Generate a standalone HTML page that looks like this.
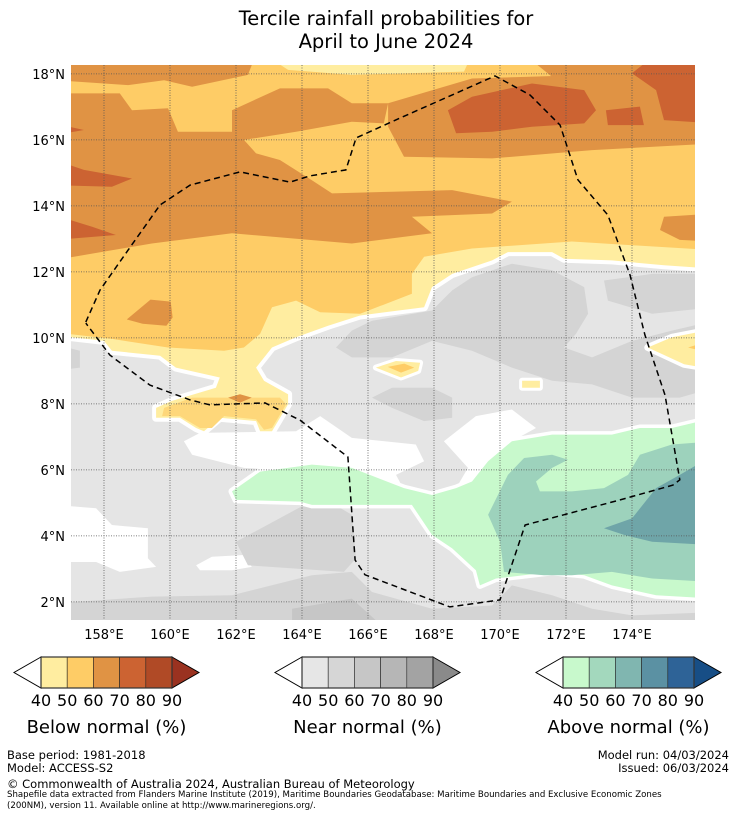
<!DOCTYPE html>
<html><head><meta charset="utf-8">
<style>
body{margin:0;background:#fff;font-family:"DejaVu Sans","Liberation Sans",sans-serif;}
#wrap{position:relative;width:736px;height:816px;overflow:hidden;}
.t{position:absolute;white-space:nowrap;color:#000;}
</style></head>
<body>
<div id="wrap">
<div class="t" style="left:0;width:772px;top:7px;text-align:center;font-size:19.5px;line-height:23px;">Tercile rainfall probabilities for<br>April to June 2024</div>
<svg id="map" width="736" height="816" style="position:absolute;left:0;top:0">
<defs><clipPath id="clip"><rect x="71" y="65" width="624" height="555"/></clipPath></defs>
<g id="layers" clip-path="url(#clip)"></g>
<g id="grid"></g>
<g id="eez" clip-path="url(#clip)"></g>
<g id="axes"></g>
<g id="legend"></g>
</svg>
<div class="t" style="left:7px;top:748px;font-size:11.5px;">Base period: 1981-2018</div>
<div class="t" style="left:7px;top:761px;font-size:11.5px;">Model: ACCESS-S2</div>
<div class="t" style="right:7px;top:748px;font-size:11.5px;text-align:right;">Model run: 04/03/2024</div>
<div class="t" style="right:7px;top:761px;font-size:11.5px;text-align:right;">Issued: 06/03/2024</div>
<div class="t" style="left:7px;top:777px;font-size:11.5px;">© Commonwealth of Australia 2024, Australian Bureau of Meteorology</div>
<div class="t" style="left:7px;top:790px;font-size:8.6px;line-height:10.5px;">Shapefile data extracted from Flanders Marine Institute (2019), Maritime Boundaries Geodatabase: Maritime Boundaries and Exclusive Economic Zones<br>(200NM), version 11. Available online at http://www.marineregions.org/.</div>
</div>
<script>
// ---- data (lon, lat) ----
const lonTicks = [158,160,162,164,166,168,170,172,174];
const latTicks = [2,4,6,8,10,12,14,16,18];
const legendLabels = ["40","50","60","70","80","90"];
const belowColors = ["#ffeda0","#fecc66","#e09344","#cc6332","#b04a26"];
const nearColors = ["#e6e6e6","#d6d6d6","#c6c6c6","#b6b6b6","#a3a3a3"];
const aboveColors = ["#c8f9cc","#a3d8bd","#80b6b0","#5b91a3","#2e6397"];
const legendTitles = ["Below normal (%)","Near normal (%)","Above normal (%)"];

const topOuter = [[157.03,10.02],[158.0,9.91],[158.24,9.61],[159.70,9.46],[160.18,9.10],[161.51,8.80],[161.39,8.49],[160.06,8.09],[159.58,7.88],[159.58,7.58],[160.30,7.58],[160.79,7.27],[161.03,7.17],[161.51,7.58],[162.61,7.48],[162.73,7.17],[163.09,7.17],[163.58,7.99],[163.58,8.29],[162.85,8.70],[162.61,9.10],[163.09,9.71],[163.82,10.02],[164.79,10.37],[165.76,10.68],[167.70,10.93],[167.94,11.54],[168.55,11.94],[169.76,12.35],[170.24,12.60],[171.58,12.60],[171.94,12.40],[173.39,12.35],[174.97,12.20],[176.5,12.10],[176.5,18.6],[156.5,18.6],[156.5,10.02]];
const topInner = [[156.5,10.17],[158.24,9.97],[159.94,9.71],[161.64,9.61],[162.24,9.71],[162.73,10.12],[163.09,10.93],[163.82,11.13],[164.55,10.78],[165.76,10.73],[167.33,11.34],[167.33,11.94],[167.70,12.46],[169.15,12.71],[172.18,12.92],[174.0,12.81],[176.5,12.66],[176.5,18.6],[156.5,18.6]];
const tongue = [[159.82,7.88],[160.67,8.19],[161.88,8.19],[163.33,8.19],[163.52,7.99],[163.09,7.27],[162.85,7.22],[162.61,7.53],[161.64,7.63],[161.27,7.27],[160.91,7.27],[160.30,7.63],[159.76,7.63]];
const tongueOrange = [[161.76,8.19],[162.12,8.29],[162.48,8.19],[162.12,8.04]];
const rightLY = [[174.48,9.71],[175.21,10.02],[176.5,10.27],[176.5,9.05],[175.58,9.20]];
const rightY = [[175.7,9.71],[176.5,9.96],[176.5,9.51]];
const blobLY1 = [[166.24,9.10],[166.85,9.30],[167.58,9.25],[167.52,9.00],[167.0,8.80]];
const blobY1 = [[166.6,9.12],[167.1,9.22],[167.4,9.1],[167.0,8.95]];
const blobLY2 = [[170.67,8.70],[171.21,8.70],[171.21,8.49],[170.67,8.49]];
const orangeAreas = [
 [[156.5,17.41],[158.48,17.41],[158.85,16.90],[159.94,16.96],[160.24,16.25],[161.88,16.25],[161.88,16.90],[163.33,17.56],[164.79,17.56],[165.51,17.11],[166.61,17.11],[166.48,16.50],[165.51,16.55],[163.82,16.25],[162.24,16.00],[162.61,15.59],[163.33,15.39],[164.30,14.78],[164.91,14.38],[166.73,14.43],[168.55,14.48],[170.36,14.13],[169.76,13.77],[167.33,13.67],[167.94,13.17],[165.51,12.86],[161.88,13.17],[159.45,12.86],[156.5,12.36]],
 [[166.61,17.11],[169.15,17.86],[172.79,17.97],[176.5,18.12],[176.5,15.89],[172.79,15.69],[169.76,15.44],[167.09,15.49],[166.61,16.40]],
 [[156.5,18.6],[162.61,18.6],[162.36,17.97],[160.67,17.61],[159.82,17.81],[158.73,17.66],[156.5,17.81]],
 [[170.73,18.6],[176.5,18.6],[176.5,18.02],[171.58,17.91]],
 [[176.5,13.77],[174.97,13.67],[174.85,13.27],[175.45,12.97],[176.5,12.92]],
 [[158.69,10.56],[159.41,11.16],[160.02,11.10],[160.08,10.62],[159.89,10.37],[159.17,10.43]]
];
const darkOrangeAreas = [
 [[168.42,16.90],[169.15,17.31],[170.97,17.71],[172.55,17.51],[172.91,16.90],[172.55,16.50],[170.97,16.40],[169.76,16.25],[168.67,16.20]],
 [[173.21,16.90],[174.24,17.01],[174.36,16.45],[173.27,16.45]],
 [[174.0,18.02],[174.73,18.6],[176.5,18.6],[176.5,16.50],[174.97,16.60],[174.73,17.51]],
 [[156.5,16.50],[157.39,16.30],[156.5,16.15]],
 [[156.5,15.39],[157.39,15.09],[158.85,14.83],[158.24,14.58],[156.5,14.63]],
 [[156.5,13.72],[157.64,13.37],[158.36,13.12],[156.5,12.97]]
];
const topLightYellow = [[162.85,18.6],[169.15,18.6],[168.91,18.07],[165.51,17.97],[163.58,18.12]];
const whiteAreas = [
 [[160.42,6.87],[160.91,7.12],[163.82,7.17],[164.55,7.63],[165.51,6.97],[167.45,6.77],[167.70,6.26],[166.85,5.85],[167.09,5.40],[165.0,5.9],[162.24,6.06],[160.67,6.46]],
 [[168.30,6.87],[169.27,7.63],[170.36,7.83],[171.09,7.27],[170.36,6.87],[169.64,6.36],[169.03,5.65],[168.67,5.45],[169.03,6.06]],
 [[156.5,4.94],[157.76,4.84],[158.24,4.33],[159.33,4.23],[159.33,3.32],[159.58,3.06],[158.48,2.91],[157.76,3.21],[156.5,3.21]],
 [[160.79,3.11],[161.27,3.37],[162.24,3.42],[162.48,3.06],[161.88,2.96],[160.91,2.96]]
];
const midGreyAreas = [
 [[165.03,9.71],[165.51,10.22],[166.12,10.52],[167.94,10.83],[168.55,11.44],[169.15,11.84],[170.36,12.25],[171.58,12.05],[172.55,11.54],[172.67,10.73],[172.30,10.12],[171.94,9.71],[172.79,9.41],[174.0,9.91],[175.21,10.22],[176.5,10.52],[176.5,8.49],[175.45,8.19],[174.0,8.19],[172.79,8.59],[171.58,8.70],[170.36,9.10],[169.15,9.61],[167.94,9.91],[166.73,9.41],[165.51,9.41]],
 [[166.12,8.19],[166.73,8.49],[167.94,8.49],[168.55,8.19],[168.55,7.58],[167.70,7.48],[166.73,7.88]],
 [[173.15,11.74],[174.61,11.94],[176.5,11.94],[176.5,10.93],[174.61,10.73],[173.27,11.13]],
 [[156.5,9.81],[157.27,9.61],[157.27,9.10],[156.5,9.0]],
 [[164.0,4.9],[165.0,4.94],[165.51,4.64],[165.64,3.32],[165.27,2.91],[163.82,3.01],[162.36,3.11],[162.0,3.82]],
 [[156.5,1.96],[159.45,2.16],[161.88,2.20],[164.3,2.81],[165.51,2.91],[166.12,2.30],[167.94,1.79],[169.76,1.89],[170.36,2.50],[171.58,2.20],[172.79,1.79],[174.0,1.59],[176.5,1.69],[176.5,1.0],[156.5,1.0]]
];
const darkGreyAreas = [
 [[163.70,1.79],[165.51,2.10],[166.73,1.0],[163.70,1.0]]
];
const greenLight = [[161.88,5.35],[162.73,5.95],[164.30,6.16],[165.51,6.06],[167.09,5.45],[167.94,5.24],[168.67,5.45],[169.15,5.65],[169.64,6.26],[170.36,6.87],[171.58,7.07],[173.39,7.07],[174.24,7.27],[175.21,7.27],[176.5,7.58],[176.5,2.10],[174.73,2.20],[173.39,2.50],[172.55,2.81],[171.58,2.91],[169.88,2.71],[169.39,2.50],[169.27,2.96],[168.55,3.62],[167.94,4.03],[167.33,4.94],[164.30,4.94],[163.94,5.04],[162.0,5.09]];
const greenMid = [[169.64,4.64],[170.24,5.85],[170.73,6.36],[171.58,6.46],[172.06,6.31],[171.58,6.06],[171.09,5.65],[171.21,5.35],[172.18,5.35],[173.15,5.45],[173.88,5.85],[174.24,6.46],[175.21,6.77],[176.5,6.87],[176.5,2.60],[174.61,2.71],[173.39,2.91],[172.18,2.81],[171.33,2.81],[170.12,2.91],[170.0,3.82]];
const greenDark = [[173.15,4.23],[174.0,4.53],[174.73,5.45],[175.45,5.85],[176.5,6.46],[176.5,3.72],[174.61,3.82],[173.76,4.03]];
const eezPath = [[157.45,10.48],[157.88,11.45],[158.73,12.66],[159.70,14.03],[160.61,14.63],[162.12,15.03],[163.64,14.72],[164.24,14.91],[165.33,15.09],[165.64,16.06],[166.97,16.66],[169.85,17.94],[170.91,17.36],[171.82,16.45],[172.36,14.79],[173.27,13.72],[173.94,11.91],[174.39,10.09],[175.00,8.27],[175.45,5.70],[175.24,5.54],[173.64,5.09],[170.76,4.33],[170.0,2.06],[168.48,1.85],[165.91,2.82],[165.61,3.27],[165.39,6.39],[163.94,7.51],[162.88,8.03],[161.21,7.97],[160.61,8.12],[159.39,8.57],[158.18,9.48],[157.45,10.45]];

// ---- axis functions ----
const X = lon => 71 + (lon - 157) * 33;
const Y = lat => 65 + (18.27 - lat) * 33;
const NS = "http://www.w3.org/2000/svg";
const FONT = "DejaVu Sans, Liberation Sans, sans-serif";
const pts = arr => arr.map(p => X(p[0]).toFixed(1) + "," + Y(p[1]).toFixed(1)).join(" ");
const layers = document.getElementById("layers");
function poly(parent, arr, fill, name, stroke, sw) {
  const el = document.createElementNS(NS, "polygon");
  el.setAttribute("points", pts(arr));
  el.setAttribute("fill", fill);
  if (stroke) { el.setAttribute("stroke", stroke); el.setAttribute("stroke-width", sw); el.setAttribute("stroke-linejoin", "round"); }
  
  
  parent.appendChild(el);
  return el;
}
const base = document.createElementNS(NS, "rect");
base.setAttribute("x", 71); base.setAttribute("y", 65); base.setAttribute("width", 624); base.setAttribute("height", 555);
base.setAttribute("fill", "#e5e5e5");


layers.appendChild(base);
whiteAreas.forEach(a => poly(layers, a, "#ffffff", "no-signal-area"));
midGreyAreas.forEach(a => poly(layers, a, "#d4d4d4", "near-normal-50-area"));
darkGreyAreas.forEach(a => poly(layers, a, "#c6c6c6", "near-normal-60-area"));
poly(layers, greenLight, "#c8f9cc", "above-normal-40-area", "#ffffff", 7);
poly(layers, greenLight, "#c8f9cc", "above-normal-40-area");
poly(layers, greenMid, "#9dd2bc", "above-normal-50-area");
poly(layers, greenDark, "#6fa5a8", "above-normal-60-area");
poly(layers, topOuter, "#ffeda0", "below-normal-40-area", "#ffffff", 8);
poly(layers, topOuter, "#ffeda0", "below-normal-40-area");
poly(layers, rightLY, "#ffeda0", "below-normal-40-area", "#ffffff", 7);
poly(layers, rightLY, "#ffeda0", "below-normal-40-area");
poly(layers, rightY, "#fecc66", "below-normal-50-area");
poly(layers, blobLY1, "#ffeda0", "below-normal-40-area", "#ffffff", 6);
poly(layers, blobLY1, "#ffeda0", "below-normal-40-area");
poly(layers, blobY1, "#fecc66", "below-normal-50-area");
poly(layers, blobLY2, "#ffeda0", "below-normal-40-area", "#ffffff", 6);
poly(layers, blobLY2, "#ffeda0", "below-normal-40-area");
poly(layers, topInner, "#fecc66", "below-normal-50-area");
poly(layers, tongue, "#fed77a", "below-normal-50-area");
poly(layers, tongueOrange, "#e09344", "below-normal-60-area");
poly(layers, topLightYellow, "#ffeda0", "below-normal-40-area");
orangeAreas.forEach(a => poly(layers, a, "#e09344", "below-normal-60-area"));
darkOrangeAreas.forEach(a => poly(layers, a, "#cc6332", "below-normal-70-area"));

const grid = document.getElementById("grid");
const axes = document.getElementById("axes");
lonTicks.forEach(lon => {
  const l = document.createElementNS(NS, "line");
  l.setAttribute("x1", X(lon)); l.setAttribute("x2", X(lon)); l.setAttribute("y1", 65); l.setAttribute("y2", 620);
  l.setAttribute("stroke", "#555"); l.setAttribute("stroke-width", "0.8"); l.setAttribute("stroke-dasharray", "1,1.5");
  
  
  grid.appendChild(l);
  const t = document.createElementNS(NS, "text");
  t.setAttribute("x", X(lon)); t.setAttribute("y", 639); t.setAttribute("text-anchor", "middle");
  t.setAttribute("font-size", "13"); t.setAttribute("font-family", FONT);
  t.textContent = lon + "°E";
  
  
  axes.appendChild(t);
});
latTicks.forEach(lat => {
  const l = document.createElementNS(NS, "line");
  l.setAttribute("x1", 71); l.setAttribute("x2", 695); l.setAttribute("y1", Y(lat)); l.setAttribute("y2", Y(lat));
  l.setAttribute("stroke", "#555"); l.setAttribute("stroke-width", "0.8"); l.setAttribute("stroke-dasharray", "1,1.5");
  
  
  grid.appendChild(l);
  const t = document.createElementNS(NS, "text");
  t.setAttribute("x", 65); t.setAttribute("y", Y(lat) + 5); t.setAttribute("text-anchor", "end");
  t.setAttribute("font-size", "13"); t.setAttribute("font-family", FONT);
  t.textContent = lat + "°N";
  
  
  axes.appendChild(t);
});
const eez = document.createElementNS(NS, "polyline");
eez.setAttribute("points", pts(eezPath));
eez.setAttribute("fill", "none"); eez.setAttribute("stroke", "#000"); eez.setAttribute("stroke-width", "1.5");
eez.setAttribute("stroke-dasharray", "6,4");


document.getElementById("eez").appendChild(eez);

const legend = document.getElementById("legend");
const sets = [[belowColors, "#9a3220", 41], [nearColors, "#8a8a8a", 302], [aboveColors, "#174e86", 563]];
sets.forEach((s, i) => {
  const [cols, endCol, x0] = s;
  const g = document.createElementNS(NS, "g");
  
  
  legend.appendChild(g);
  const y0 = 657, h = 31, w = 26.2;
  const lt = document.createElementNS(NS, "polygon");
  lt.setAttribute("points", `${x0},${y0} ${x0-27},${y0+h/2} ${x0},${y0+h}`);
  lt.setAttribute("fill", "#fff"); lt.setAttribute("stroke", "#000"); lt.setAttribute("stroke-width", "1");
  
  
  g.appendChild(lt);
  cols.forEach((c, k) => {
    const r = document.createElementNS(NS, "rect");
    r.setAttribute("x", x0 + k * w); r.setAttribute("y", y0); r.setAttribute("width", w); r.setAttribute("height", h);
    r.setAttribute("fill", c); r.setAttribute("stroke", "#222"); r.setAttribute("stroke-width", "0.6");
    
    
    g.appendChild(r);
  });
  const xe = x0 + 5 * w;
  const rt = document.createElementNS(NS, "polygon");
  rt.setAttribute("points", `${xe},${y0} ${xe+27},${y0+h/2} ${xe},${y0+h}`);
  rt.setAttribute("fill", endCol); rt.setAttribute("stroke", "#000"); rt.setAttribute("stroke-width", "1");
  
  
  g.appendChild(rt);
  const fr = document.createElementNS(NS, "rect");
  fr.setAttribute("x", x0); fr.setAttribute("y", y0); fr.setAttribute("width", 5 * w); fr.setAttribute("height", h);
  fr.setAttribute("fill", "none"); fr.setAttribute("stroke", "#333"); fr.setAttribute("stroke-width", "1.2");
  
  
  g.appendChild(fr);
  legendLabels.forEach((lab, k) => {
    const t = document.createElementNS(NS, "text");
    t.setAttribute("x", x0 + k * w); t.setAttribute("y", 706); t.setAttribute("text-anchor", "middle");
    t.setAttribute("font-size", "16"); t.setAttribute("font-family", FONT);
    t.textContent = lab;
    
    
    g.appendChild(t);
  });
  const tt = document.createElementNS(NS, "text");
  tt.setAttribute("x", x0 + 2.5 * w); tt.setAttribute("y", 733); tt.setAttribute("text-anchor", "middle");
  tt.setAttribute("font-size", "18"); tt.setAttribute("font-family", FONT);
  tt.textContent = legendTitles[i];
  
  
  g.appendChild(tt);
});
</script>
</body></html>
